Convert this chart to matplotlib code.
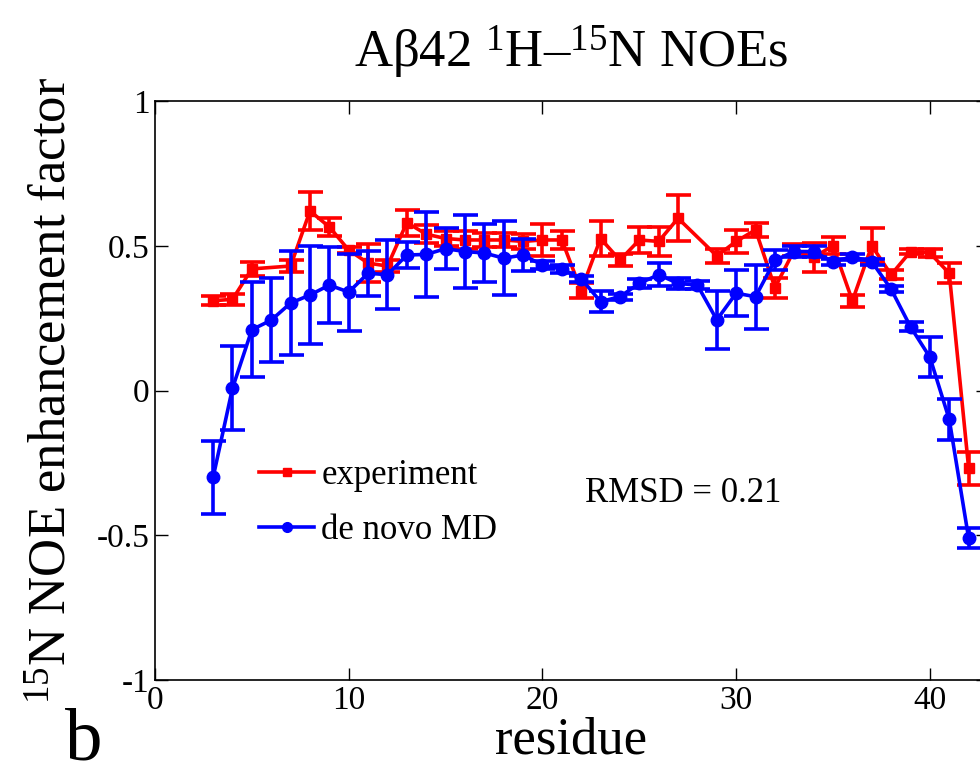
import matplotlib
matplotlib.use("Agg")
import matplotlib.pyplot as plt
from matplotlib.lines import Line2D

plt.rcParams["font.family"] = ["Liberation Serif", "DejaVu Serif"]
plt.rcParams["mathtext.fontset"] = "custom"
plt.rcParams["mathtext.rm"] = "Liberation Serif"
plt.rcParams["mathtext.it"] = "Liberation Serif:italic"

# Experimental 1H-15N NOE values (residues 6 and 28 not measured)
exp_res = [3, 4, 5, 7, 8, 9, 10, 11, 12, 13, 14, 15, 16, 17, 18, 19, 20, 21, 22, 23,
           24, 25, 26, 27, 29, 30, 31, 32, 33, 34, 35, 36, 37, 38, 39, 40, 41, 42]
exp_val = [0.31, 0.315, 0.42, 0.43, 0.62, 0.565, 0.485, 0.44, 0.43, 0.58, 0.54, 0.525,
           0.52, 0.52, 0.52, 0.515, 0.52, 0.52, 0.345, 0.525, 0.45, 0.52, 0.515, 0.595,
           0.465, 0.515, 0.555, 0.355, 0.485, 0.46, 0.50, 0.31, 0.50, 0.40, 0.48, 0.475,
           0.405, -0.268]
exp_err = [0.015, 0.02, 0.025, 0.02, 0.065, 0.03, 0.01, 0.065, 0.02, 0.045, 0.03, 0.025,
           0.03, 0.025, 0.025, 0.025, 0.055, 0.03, 0.025, 0.06, 0.02, 0.045, 0.05, 0.08,
           0.025, 0.04, 0.025, 0.035, 0.02, 0.05, 0.03, 0.02, 0.06, 0.015, 0.01, 0.015,
           0.035, 0.057]

# de novo MD predictions
md_res = list(range(3, 43))
md_val = [-0.30, 0.008, 0.21, 0.243, 0.302, 0.33, 0.364, 0.34, 0.405, 0.40, 0.468, 0.47,
          0.49, 0.48, 0.475, 0.457, 0.468, 0.433, 0.42, 0.386, 0.307, 0.324, 0.37, 0.40,
          0.37, 0.364, 0.244, 0.336, 0.324, 0.45, 0.48, 0.48, 0.445, 0.462, 0.445, 0.35,
          0.22, 0.115, -0.10, -0.51]
md_err = [0.125, 0.145, 0.165, 0.145, 0.18, 0.17, 0.13, 0.133, 0.077, 0.12, 0.045, 0.147,
          0.07, 0.125, 0.1, 0.127, 0.055, 0.015, 0.015, 0.01, 0.037, 0.01, 0.015, 0.04,
          0.02, 0.015, 0.1, 0.08, 0.11, 0.035, 0.02, 0.02, 0.01, 0.01, 0.01, 0.01,
          0.015, 0.07, 0.07, 0.035]

x_ticks = [0, 10, 20, 30, 40]
y_ticks = [-1, -0.5, 0, 0.5, 1]
y_tick_labels = ["-1", "-0.5", "0", "0.5", "1"]
rmsd = 0.21

W, H = 980, 777
fig = plt.figure(figsize=(W / 100, H / 100), dpi=100)
# axes box runs slightly past the right edge of the canvas
ax = fig.add_axes([155 / W, (H - 680) / H, 833 / W, 579 / H])

lw = 2.6
ax.errorbar(exp_res, exp_val, yerr=exp_err, color="#ff0000", marker="s", markersize=7,
            linewidth=lw, elinewidth=lw, capsize=9, capthick=lw, zorder=3)
ax.errorbar(md_res, md_val, yerr=md_err, color="#0000ff", marker="o", markersize=9,
            linewidth=lw, elinewidth=lw, capsize=9, capthick=lw, zorder=4)

ax.set_xlim(0, 43)
ax.set_ylim(-1, 1)
ax.set_xticks(x_ticks)
ax.set_yticks(y_ticks)
ax.set_yticklabels(y_tick_labels)
ax.tick_params(direction="in", length=9, width=1, labelsize=24, top=True, right=True,
               pad=4)
for s in ax.spines.values():
    s.set_linewidth(1.2)

ax.set_xlabel("residue", fontsize=38, labelpad=0)
ax.set_ylabel("$^{15}$N NOE enhancement factor", fontsize=38, labelpad=14)
ax.set_title("A\u03b242 $^{1}$H\u2013$^{15}$N NOEs", fontsize=38, pad=24)

handles = [Line2D([], [], color="#ff0000", marker="s", markersize=6, linewidth=lw),
           Line2D([], [], color="#0000ff", marker="o", markersize=7, linewidth=lw)]
ax.legend(handles, ["experiment", "de novo MD"], loc="upper left",
          bbox_to_anchor=(0.108, 0.405), frameon=False, fontsize=25,
          handlelength=1.6, handletextpad=0.2, labelspacing=0.62, borderaxespad=0)

ax.text(22.2, -0.357, f"RMSD = {rmsd}", fontsize=25, va="center", ha="left")

fig.text(65 / W, 1 - 760 / H, "b", fontsize=54, ha="left", va="baseline")

fig.savefig("out.png", dpi=100)
